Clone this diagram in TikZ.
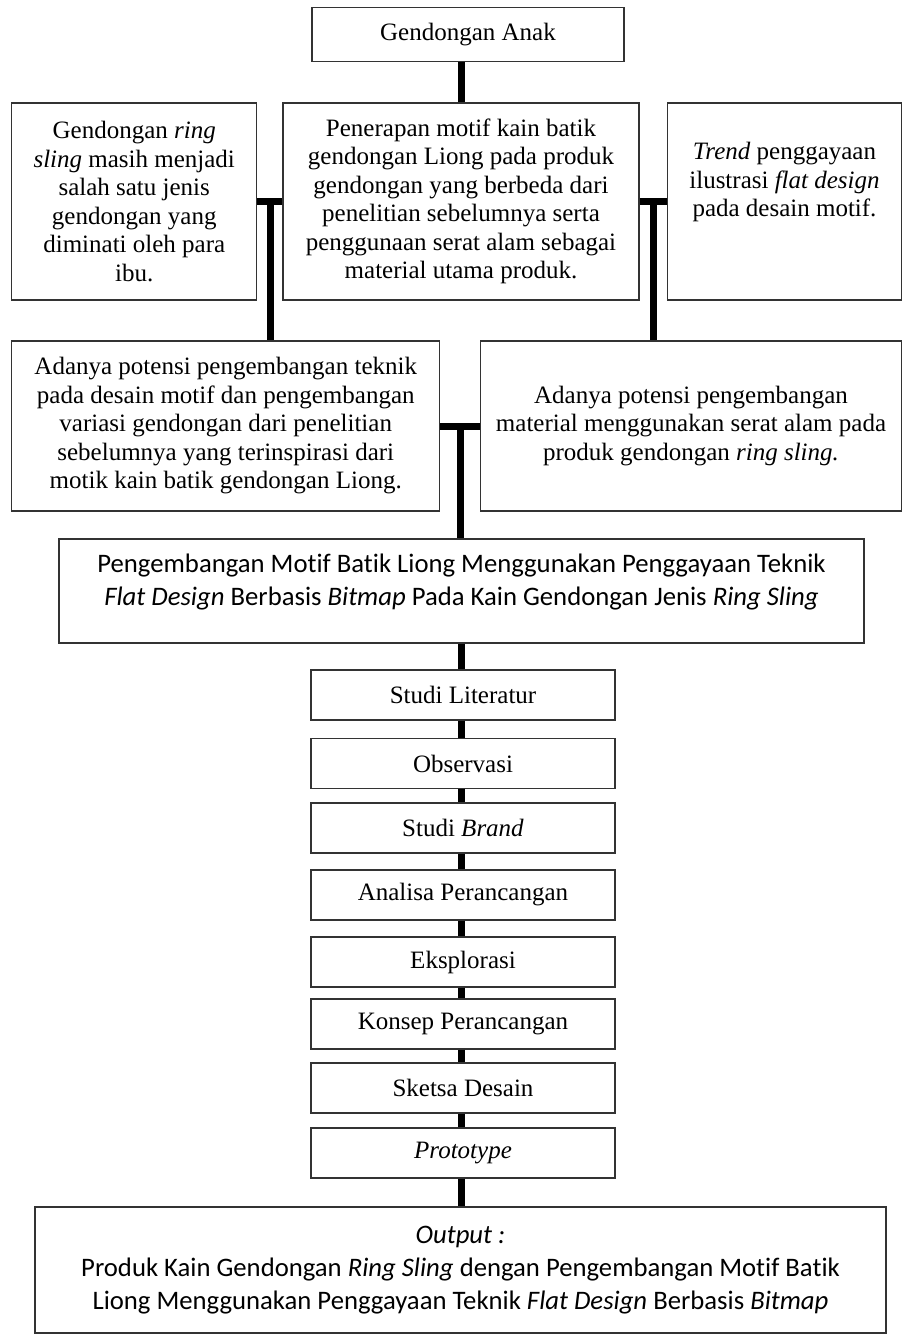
\documentclass[tikz,border=0pt]{standalone}
\usepackage{fontspec}
\setmainfont{Liberation Serif}
\newfontfamily\calibri[Ligatures=NoCommon]{Carlito}

\begin{document}
\begin{tikzpicture}[x=1pt, y=1pt,
box/.style={draw=black!80, line width=1.2pt, align=flush center, inner sep=2pt, font=\fontsize{25}{28.5}\selectfont},
bigbox/.style={box, font=\calibri\fontsize{26.7}{33}\selectfont},
stepbox/.style={box, minimum width=304pt, minimum height=50pt},
link/.style={line width=7pt}
]
\useasboundingbox (0,0) rectangle (903,-1335);
\node[box, minimum width=312pt, minimum height=54pt] (anak) at (468,-34.5) {Gendongan Anak};
\node[box, text width=238pt, minimum width=245pt, minimum height=197pt] (ringsling) at (134.25,-201.5) {Gendongan \textit{ring}\\ \textit{sling} masih menjadi\\ salah satu jenis\\ gendongan yang\\ diminati oleh para\\ ibu.};
\node[box, text width=348pt, minimum width=356pt, minimum height=197pt] (penerapan) at (461,-201.5) {Penerapan motif kain batik\\ gendongan Liong pada produk\\ gendongan yang berbeda dari\\ penelitian sebelumnya serta\\ penggunaan serat alam sebagai\\ material utama produk.};
\node[box, text width=228pt, minimum width=234pt, minimum height=197pt, text depth=101pt] (trend) at (784.5,-201.5) {\textit{Trend} penggayaan\\ ilustrasi \textit{flat design}\\ pada desain motif.};
\draw[link] (penerapan.north) -- (penerapan.north |- anak.south);
\node[box, text width=420pt, minimum width=428pt, minimum height=170pt] (teknik) at (225.75,-426) {Adanya potensi pengembangan teknik\\ pada desain motif dan pengembangan\\ variasi gendongan dari penelitian\\ sebelumnya yang terinspirasi dari\\ motik kain batik gendongan Liong.};
\node[box, text width=414pt, minimum width=421pt, minimum height=170pt] (material) at (691,-426) {Adanya potensi pengembangan\\ material menggunakan serat alam pada\\ produk gendongan \textit{ring sling.}};
\coordinate (jl) at (270,-201.5);
\coordinate (jr) at (653,-201.5);
\coordinate (jm) at (460,-426);
\draw[link] (ringsling.east) -- (penerapan.west);
\draw[link] (jl) -- (jl |- teknik.north);
\draw[link] (penerapan.east) -- (trend.west);
\draw[link] (jr) -- (jr |- material.north);
\draw[link] (teknik.east) -- (material.west);
\node[bigbox, text width=797pt, minimum width=805pt, minimum height=104pt, text depth=56pt] (judul) at (461.5,-591) {Pengembangan Motif Batik Liong Menggunakan Penggayaan Teknik\\ \textit{Flat Design} Berbasis \textit{Bitmap} Pada Kain Gendongan Jenis \textit{Ring Sling}};
\draw[link] (jm) -- (jm |- judul.north);
\node[stepbox] (literatur) at (463,-695) {Studi Literatur};
\node[stepbox] (observasi) at (463,-763.5) {Observasi};
\node[stepbox] (brand) at (463,-828) {Studi \textit{Brand}};
\node[stepbox] (analisa) at (463,-895) {Analisa Perancangan};
\node[stepbox] (eksplorasi) at (463,-962) {Eksplorasi};
\node[stepbox] (konsep) at (463,-1024) {Konsep Perancangan};
\node[stepbox] (sketsa) at (463,-1088) {Sketsa Desain};
\node[stepbox] (prototype) at (463,-1153) {\textit{Prototype}};
\node[bigbox, text width=843pt, minimum width=851pt, minimum height=126pt] (output) at (460.5,-1270) {\textit{Output :}\\ Produk Kain Gendongan \textit{Ring Sling} dengan Pengembangan Motif Batik\\ Liong Menggunakan Penggayaan Teknik \textit{Flat Design} Berbasis \textit{Bitmap}};
\draw[link] (judul.south) -- (judul.south |- literatur.north);
\draw[link] (literatur.south -| judul.south) -- (observasi.north -| judul.south);
\draw[link] (observasi.south -| judul.south) -- (brand.north -| judul.south);
\draw[link] (brand.south -| judul.south) -- (analisa.north -| judul.south);
\draw[link] (analisa.south -| judul.south) -- (eksplorasi.north -| judul.south);
\draw[link] (eksplorasi.south -| judul.south) -- (konsep.north -| judul.south);
\draw[link] (konsep.south -| judul.south) -- (sketsa.north -| judul.south);
\draw[link] (sketsa.south -| judul.south) -- (prototype.north -| judul.south);
\draw[link] (prototype.south -| judul.south) -- (output.north -| judul.south);
\end{tikzpicture}
\end{document}
